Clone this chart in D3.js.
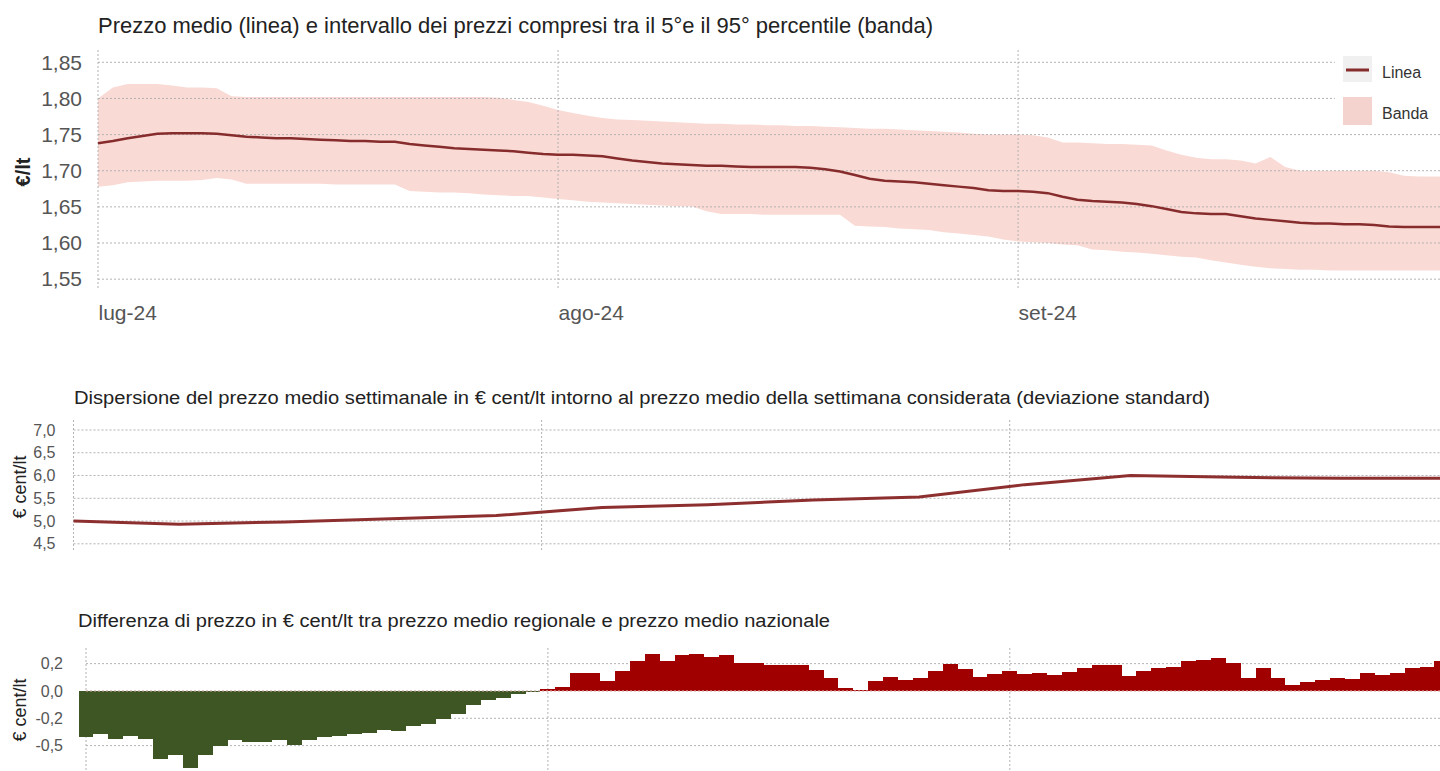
<!DOCTYPE html>
<html>
<head>
<meta charset="utf-8">
<script src="https://cdn.jsdelivr.net/npm/d3@7"></script>
<style>
  body { margin: 0; background: #fff; }
  svg { display: block; font-family: "Liberation Sans", Arial, sans-serif; }
  .grid line { stroke: #b3b3b3; stroke-width: 1; stroke-dasharray: 2,2; }
  .axis text { fill: #555; }
</style>
</head>
<body>
<script>
// daily series, starting 1 July 2024
const startDate = "2024-07-01";

const meanPrice = [
  1.738,1.741,1.745,1.748,1.751,1.752,1.752,1.752,1.751,1.749,
  1.747,1.746,1.745,1.745,1.744,1.743,1.742,1.741,1.741,1.740,
  1.740,1.737,1.735,1.733,1.731,1.730,1.729,1.728,1.727,1.725,
  1.723,1.722,1.722,1.721,1.720,1.717,1.714,1.712,1.710,1.709,
  1.708,1.707,1.707,1.706,1.705,1.705,1.705,1.705,1.704,1.702,
  1.699,1.694,1.689,1.686,1.685,1.684,1.682,1.680,1.678,1.676,
  1.673,1.672,1.672,1.671,1.669,1.664,1.660,1.658,1.657,1.656,
  1.654,1.651,1.647,1.643,1.641,1.640,1.640,1.637,1.634,1.632,
  1.630,1.628,1.627,1.627,1.626,1.626,1.625,1.623,1.622,1.622,
  1.622,1.622];

const bandHigh = [
  1.800,1.815,1.820,1.820,1.820,1.818,1.815,1.815,1.814,1.803,
  1.802,1.802,1.802,1.802,1.802,1.802,1.802,1.802,1.802,1.802,
  1.802,1.802,1.802,1.802,1.802,1.802,1.802,1.801,1.798,1.795,
  1.790,1.784,1.780,1.776,1.773,1.771,1.770,1.769,1.768,1.767,
  1.766,1.765,1.765,1.764,1.764,1.763,1.763,1.762,1.762,1.761,
  1.760,1.759,1.758,1.758,1.757,1.756,1.755,1.754,1.753,1.751,
  1.750,1.750,1.750,1.749,1.746,1.739,1.739,1.738,1.737,1.737,
  1.736,1.735,1.728,1.722,1.718,1.716,1.716,1.714,1.710,1.719,
  1.705,1.700,1.700,1.700,1.700,1.700,1.700,1.698,1.693,1.692,
  1.692,1.692];

const bandLow = [
  1.678,1.680,1.684,1.685,1.686,1.686,1.686,1.687,1.690,1.688,
  1.682,1.682,1.682,1.682,1.682,1.682,1.681,1.681,1.681,1.681,
  1.681,1.672,1.671,1.670,1.670,1.669,1.667,1.666,1.665,1.665,
  1.663,1.661,1.659,1.657,1.656,1.655,1.654,1.653,1.652,1.651,
  1.651,1.644,1.640,1.640,1.640,1.639,1.639,1.639,1.639,1.639,
  1.639,1.624,1.623,1.622,1.620,1.619,1.618,1.615,1.613,1.611,
  1.609,1.605,1.602,1.601,1.600,1.598,1.597,1.591,1.590,1.588,
  1.587,1.585,1.583,1.581,1.580,1.576,1.573,1.570,1.567,1.565,
  1.564,1.563,1.563,1.562,1.562,1.562,1.562,1.562,1.562,1.562,
  1.562,1.562];

// weekly standard deviation (€ cent/lt)
const weekDates = ["2024-07-01","2024-07-08","2024-07-15","2024-07-22","2024-07-29",
  "2024-08-05","2024-08-12","2024-08-19","2024-08-26","2024-09-02","2024-09-09",
  "2024-09-16","2024-09-23","2024-09-30"];
const stdDev = [5.00, 4.93, 4.98, 5.05, 5.12, 5.30, 5.36, 5.46, 5.53, 5.80, 6.00, 5.96, 5.94, 5.94];

// regional minus national price, daily (€ cent/lt)
const priceDiff = [
  -0.42,-0.39,-0.44,-0.41,-0.44,-0.62,-0.59,-0.70,-0.59,-0.50,
  -0.45,-0.47,-0.47,-0.45,-0.49,-0.45,-0.42,-0.41,-0.39,-0.38,
  -0.36,-0.37,-0.32,-0.30,-0.26,-0.21,-0.13,-0.08,-0.06,-0.03,
  -0.01,
  0.02,0.04,0.16,0.16,0.09,0.18,0.27,0.34,0.27,0.33,
  0.34,0.31,0.33,0.26,0.26,0.24,0.24,0.24,0.19,0.12,
  0.03,0.01,0.09,0.13,0.10,0.12,0.18,0.25,0.20,0.13,
  0.155,0.18,0.155,0.165,0.146,0.17,0.21,0.24,0.24,0.14,
  0.18,0.21,0.22,0.27,0.28,0.30,0.26,0.12,0.21,0.12,
  0.055,0.085,0.10,0.12,0.11,0.16,0.145,0.16,0.21,0.22,
  0.27];

const monthDates = ["2024-07-01", "2024-08-01", "2024-09-01"];
const monthLabels = ["lug-24", "ago-24", "set-24"];
const priceTicks = [1.55, 1.60, 1.65, 1.70, 1.75, 1.80, 1.85];
const stdTicks = [4.5, 5.0, 5.5, 6.0, 6.5, 7.0];
const diffTicks = [0.25, 0, -0.25, -0.5];
const diffTickLabels = ["0,2", "0,0", "-0,2", "-0,5"];

const width = 1440, height = 771;
const lineColor = "#862c2c";
const bandColor = "#fadad5";

const it = d3.formatLocale({decimal: ",", thousands: ".", grouping: [3], currency: ["€", ""]});
const parse = d3.timeParse("%Y-%m-%d");
const day0 = parse(startDate);
const dayOf = i => d3.timeDay.offset(day0, i);
const months = monthDates.map(parse);
const endDate = parse("2024-10-01");

const svg = d3.select("body").append("svg")
    .attr("width", width)
    .attr("height", height);

// ---------- top: mean price and 5-95 percentile band ----------
const x1 = d3.scaleTime().domain([day0, endDate]).range([98, 98 + 92 * 14.84]);
const y1 = d3.scaleLinear().domain([1.535, 1.867]).range([290, 50]);

svg.append("text")
    .attr("x", 98).attr("y", 33)
    .attr("font-size", 22).attr("fill", "#222")
    .attr("textLength", 835).attr("lengthAdjust", "spacingAndGlyphs")
    .text("Prezzo medio (linea) e intervallo dei prezzi compresi tra il 5°e il 95° percentile (banda)");

svg.append("path")
    .datum(meanPrice.map((v, i) => i))
    .attr("fill", bandColor)
    .attr("d", d3.area()
        .x(i => x1(dayOf(i)))
        .y0(i => y1(bandLow[i]))
        .y1(i => y1(bandHigh[i])));

const g1 = svg.append("g").attr("class", "grid");
g1.selectAll(".h").data(priceTicks).join("line")
    .attr("x1", 98).attr("x2", width)
    .attr("y1", d => y1(d)).attr("y2", d => y1(d));
g1.selectAll(".v").data(months).join("line")
    .attr("x1", d => x1(d)).attr("x2", d => x1(d))
    .attr("y1", 50).attr("y2", 290);

svg.append("path")
    .datum(meanPrice)
    .attr("fill", "none")
    .attr("stroke", lineColor)
    .attr("stroke-width", 2.5)
    .attr("d", d3.line().x((v, i) => x1(dayOf(i))).y(v => y1(v)));

const ay1 = svg.append("g").attr("class", "axis")
    .attr("transform", "translate(98,0)")
    .call(d3.axisLeft(y1).tickValues(priceTicks).tickFormat(it.format(".2f")).tickSize(0).tickPadding(16));
ay1.select(".domain").remove();
ay1.selectAll("text").attr("font-size", 21).attr("font-family", null);

const ax1 = svg.append("g").attr("class", "axis")
    .attr("transform", "translate(0,290)")
    .call(d3.axisBottom(x1).tickValues(months).tickFormat((d, i) => monthLabels[i]).tickSize(0).tickPadding(15));
ax1.select(".domain").remove();
ax1.selectAll("text").attr("font-size", 21).attr("font-family", null).attr("text-anchor", "start");

svg.append("text")
    .attr("transform", "translate(30,172) rotate(-90)")
    .attr("text-anchor", "middle")
    .attr("font-size", 20).attr("font-weight", "bold").attr("fill", "#222")
    .text("€/lt");

// legend
const leg = svg.append("g");
leg.append("rect").attr("x", 1335).attr("y", 50).attr("width", 105).attr("height", 82).attr("fill", "#fff");
leg.append("rect").attr("x", 1343).attr("y", 56).attr("width", 29).attr("height", 26).attr("fill", "#f0f0f0");
leg.append("line").attr("x1", 1346).attr("x2", 1369).attr("y1", 70).attr("y2", 70)
    .attr("stroke", lineColor).attr("stroke-width", 3);
leg.append("rect").attr("x", 1343).attr("y", 97).attr("width", 29).attr("height", 28).attr("fill", "#f4d2cd");
leg.append("text").attr("x", 1382).attr("y", 78).attr("font-size", 16).attr("fill", "#333").text("Linea");
leg.append("text").attr("x", 1382).attr("y", 119).attr("font-size", 16).attr("fill", "#333").text("Banda");

// ---------- middle: weekly standard deviation ----------
const x2 = d3.scaleTime().domain([day0, endDate]).range([73.5, 73.5 + 92 * 15.1]);
const y2 = d3.scaleLinear().domain([4.32, 7.22]).range([552, 420]);

svg.append("text")
    .attr("x", 74).attr("y", 404)
    .attr("font-size", 18).attr("fill", "#222")
    .attr("textLength", 1136).attr("lengthAdjust", "spacingAndGlyphs")
    .text("Dispersione del prezzo medio settimanale in € cent/lt intorno al prezzo medio della settimana considerata (deviazione standard)");

const g2 = svg.append("g").attr("class", "grid");
g2.selectAll(".h").data(stdTicks).join("line")
    .attr("x1", 73.5).attr("x2", width)
    .attr("y1", d => y2(d)).attr("y2", d => y2(d));
g2.selectAll(".v").data(months).join("line")
    .attr("x1", d => x2(d)).attr("x2", d => x2(d))
    .attr("y1", 420).attr("y2", 552);

svg.append("path")
    .datum(stdDev)
    .attr("fill", "none")
    .attr("stroke", "#8e2f2f")
    .attr("stroke-width", 3)
    .attr("d", d3.line().x((v, i) => x2(parse(weekDates[i]))).y(v => y2(v)));

const ay2 = svg.append("g").attr("class", "axis")
    .attr("transform", "translate(73.5,0)")
    .call(d3.axisLeft(y2).tickValues(stdTicks).tickFormat(it.format(".1f")).tickSize(0).tickPadding(18));
ay2.select(".domain").remove();
ay2.selectAll("text").attr("font-size", 16).attr("font-family", null);

svg.append("text")
    .attr("transform", "translate(26,487) rotate(-90)")
    .attr("text-anchor", "middle")
    .attr("font-size", 18).attr("fill", "#222")
    .text("€ cent/lt");

// ---------- bottom: regional - national difference ----------
const x3 = d3.scaleTime().domain([day0, endDate]).range([86, 86 + 92 * 14.9]);
const y3 = d3.scaleLinear().domain([-0.732, 0.393]).range([771, 648]);

svg.append("text")
    .attr("x", 78).attr("y", 627)
    .attr("font-size", 18).attr("fill", "#222")
    .attr("textLength", 752).attr("lengthAdjust", "spacingAndGlyphs")
    .text("Differenza di prezzo in € cent/lt tra prezzo medio regionale e prezzo medio nazionale");

const g3 = svg.append("g").attr("class", "grid");
g3.selectAll(".h").data(diffTicks).join("line")
    .attr("x1", 86).attr("x2", width)
    .attr("y1", d => y3(d)).attr("y2", d => y3(d));
g3.selectAll(".v").data(months).join("line")
    .attr("x1", d => x3(d)).attr("x2", d => x3(d))
    .attr("y1", 648).attr("y2", height);

// each bar spans half a day either side of its date
const edge = i => x3(d3.timeHour.offset(dayOf(i), -12));
svg.append("g").attr("shape-rendering", "crispEdges")
  .selectAll("rect").data(priceDiff).join("rect")
    .attr("x", (v, i) => Math.round(edge(i)))
    .attr("width", (v, i) => Math.round(edge(i + 1)) - Math.round(edge(i)))
    .attr("y", v => y3(Math.max(0, v)))
    .attr("height", v => Math.abs(y3(v) - y3(0)))
    .attr("fill", v => v < 0 ? "#3d5624" : "#a00000");

svg.append("line")
    .attr("x1", 86).attr("x2", width)
    .attr("y1", y3(0)).attr("y2", y3(0))
    .attr("stroke", "#e9b8b8").attr("stroke-dasharray", "2,2");

const ay3 = svg.append("g").attr("class", "axis")
    .attr("transform", "translate(86,0)")
    .call(d3.axisLeft(y3).tickValues(diffTicks).tickFormat((d, i) => diffTickLabels[i]).tickSize(0).tickPadding(23));
ay3.select(".domain").remove();
ay3.selectAll("text").attr("font-size", 16).attr("font-family", null);

svg.append("text")
    .attr("transform", "translate(26,710) rotate(-90)")
    .attr("text-anchor", "middle")
    .attr("font-size", 18).attr("fill", "#222")
    .text("€ cent/lt");
</script>
</body>
</html>
